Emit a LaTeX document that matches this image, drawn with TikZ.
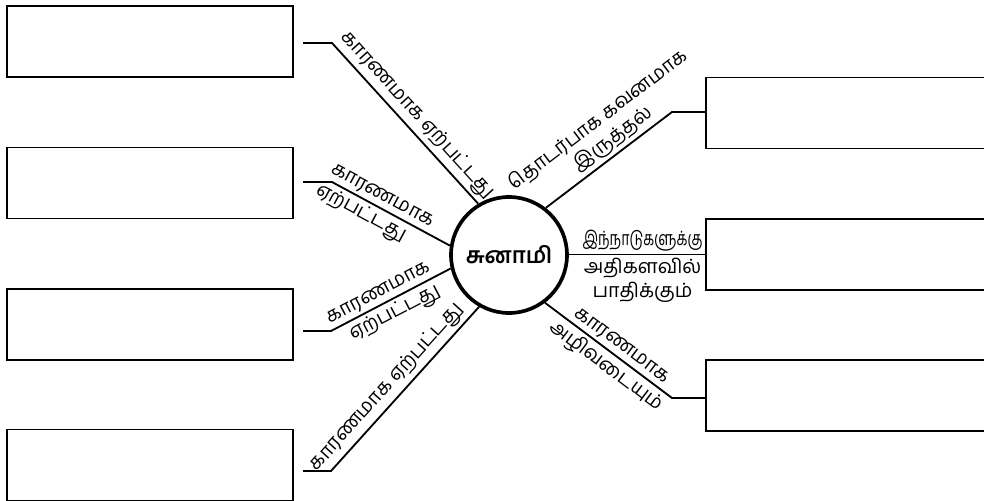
\documentclass[tikz,border=0pt]{standalone}
\usepackage{fontspec}
\newfontfamily\tamil[Script=Tamil]{Hind Madurai}
\begin{document}
\begin{tikzpicture}[x=0.25mm, y=-0.25mm,
  answer/.style={draw, line width=0.9pt, inner sep=0pt,
    minimum width=71.5mm, minimum height=17.75mm},
  leftanswer/.style={answer, outer xsep=2.5mm},
  link/.style={line width=1.3pt},
  tag/.style={font=\tamil\fontsize{14}{17}\selectfont, inner sep=2pt,
    align=center, sloped}]
  \useasboundingbox (0,0) rectangle (984,501);
  % The hub in the middle.
  \node[circle, draw, line width=2.6pt, minimum size=29mm,
    font=\tamil\bfseries\fontsize{16}{19}\selectfont] (tsunami) at (509,255) {சுனாமி};
  % Empty answer boxes, four on the left and three on the right.
  \node[leftanswer] (cause1) at (150,41.5) {};
  \node[leftanswer] (cause2) at (150,183) {};
  \node[leftanswer] (cause3) at (150,324.5) {};
  \node[leftanswer] (cause4) at (150,465) {};
  \node[answer, minimum width=80mm] (effect1) at (866,113) {};
  \node[answer, minimum width=80mm] (effect2) at (866,254.5) {};
  \node[answer, minimum width=80mm] (effect3) at (866,395.5) {};
  % Bends of the spokes.
  \coordinate (bend1) at (332,43);
  \coordinate (bend2) at (332,182);
  \coordinate (bend3) at (331,331);
  \coordinate (bend4) at (331,471);
  \coordinate (bend5) at (672,112);
  \coordinate (bend6) at (672,398);
  % Spokes on the left, with their labels.
  \draw[link] (bend1 -| cause1.east) -- (bend1)
    -- node[tag, above, pos=0.51] {காரணமாக ஏற்பட்டது} (tsunami.121);
  \draw[link] (bend2 -| cause2.east) -- (bend2)
    -- node[tag, above, pos=0.38] {காரணமாக}
       node[tag, below, pos=0.30] {ஏற்பட்டது} (tsunami.171);
  \draw[link] (bend3 -| cause3.east) -- (bend3)
    -- node[tag, above, pos=0.44] {காரணமாக}
       node[tag, below, pos=0.48] {ஏற்பட்டது} (tsunami.193);
  \draw[link] (bend4 -| cause4.east) -- (bend4)
    -- node[tag, above, pos=0.45] {காரணமாக ஏற்பட்டது} (tsunami.240);
  % Spokes on the right, with their labels.
  \draw[link] (tsunami.52)
    -- node[tag, above, pos=0.6] {தொடர்பாக கவனமாக\\இருத்தல்} (bend5)
    -- (bend5 -| effect1.west);
  \draw[link] (tsunami.east |- effect2.west) -- (effect2.west)
    node[tag, above, pos=0.54, xscale=0.72] {இந்நாடுகளுக்கு}
    node[tag, below, pos=0.54] {அதிகளவில்\\பாதிக்கும்};
  \draw[link] (tsunami.-53)
    -- node[tag, above, pos=0.55] {காரணமாக}
       node[tag, below, pos=0.55] {அழிவடையும்} (bend6)
    -- (bend6 -| effect3.west);
\end{tikzpicture}
\end{document}
